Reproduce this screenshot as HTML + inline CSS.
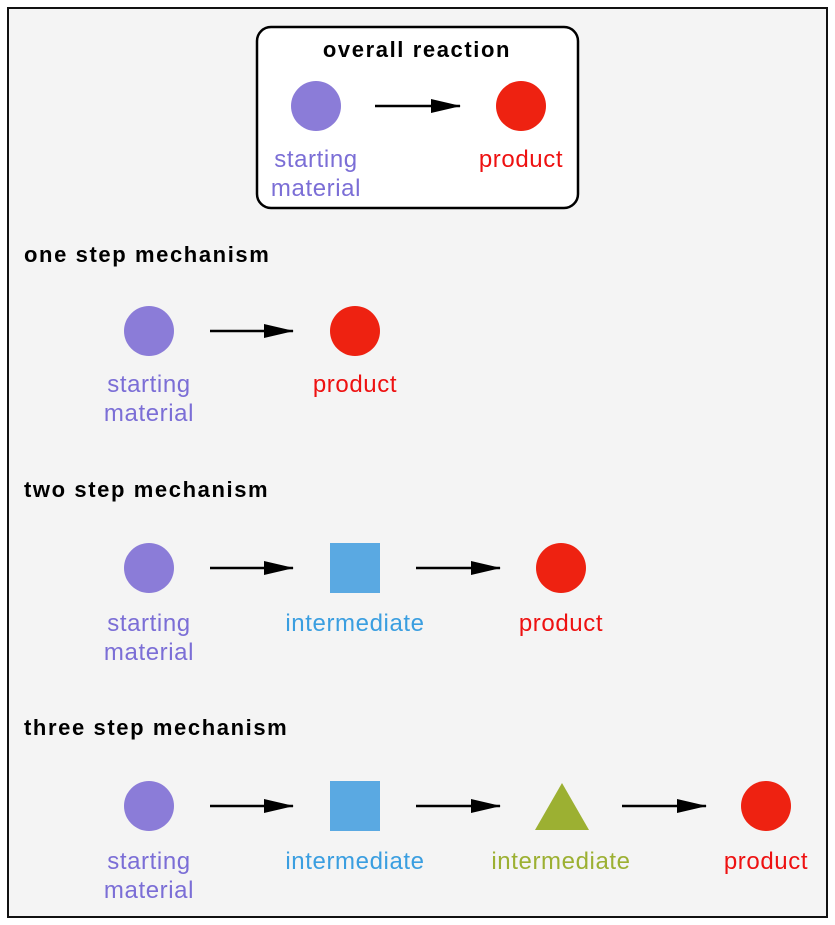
<!DOCTYPE html>
<html><head><meta charset="utf-8"><style>html,body{margin:0;padding:0;background:#fff}svg{display:block}</style></head>
<body>
<svg width="835" height="925" viewBox="0 0 835 925" xmlns="http://www.w3.org/2000/svg" font-family="Liberation Sans, sans-serif">
<defs><marker id="a" markerWidth="30" markerHeight="14" refX="29" refY="7" orient="auto" markerUnits="userSpaceOnUse"><path d="M0,0 L30,7 L0,14 Z" fill="#000"/></marker></defs>
<rect x="8" y="8" width="819" height="909" fill="#f4f4f4" stroke="#111" stroke-width="2"/>
<rect x="257" y="27" width="321" height="181" rx="14" fill="#fff" stroke="#000" stroke-width="2.5"/>
<g font-weight="bold" font-size="22" fill="#000" letter-spacing="1.6">
<text x="417" y="57" text-anchor="middle">overall reaction</text>
<text x="24" y="262">one step mechanism</text>
<text x="24" y="497">two step mechanism</text>
<text x="24" y="735">three step mechanism</text>
</g>
<g stroke="#000" stroke-width="2.5" marker-end="url(#a)">
<line x1="375" y1="106" x2="460" y2="106"/>
<line x1="210" y1="331" x2="293" y2="331"/>
<line x1="210" y1="568" x2="293" y2="568"/>
<line x1="416" y1="568" x2="500" y2="568"/>
<line x1="210" y1="806" x2="293" y2="806"/>
<line x1="416" y1="806" x2="500" y2="806"/>
<line x1="622" y1="806" x2="706" y2="806"/>
</g>
<g fill="#8b7cd8">
<circle cx="316" cy="106" r="25"/><circle cx="149" cy="331" r="25"/><circle cx="149" cy="568" r="25"/><circle cx="149" cy="806" r="25"/>
</g>
<g fill="#ee2211">
<circle cx="521" cy="106" r="25"/><circle cx="355" cy="331" r="25"/><circle cx="561" cy="568" r="25"/><circle cx="766" cy="806" r="25"/>
</g>
<rect x="330" y="543" width="50" height="50" fill="#5aa9e2"/>
<rect x="330" y="781" width="50" height="50" fill="#5aa9e2"/>
<polygon points="562,783 589,830 535,830" fill="#9cb032"/>
<g font-size="24" text-anchor="middle" letter-spacing="0.6">
<g fill="#7b6ed6">
<text x="316" y="167">starting</text><text x="316" y="196">material</text>
<text x="149" y="392">starting</text><text x="149" y="421">material</text>
<text x="149" y="631">starting</text><text x="149" y="660">material</text>
<text x="149" y="869">starting</text><text x="149" y="898">material</text>
</g>
<g fill="#ee1111">
<text x="521" y="167">product</text><text x="355" y="392">product</text><text x="561" y="631">product</text><text x="766" y="869">product</text>
</g>
<g fill="#3a9ee0"><text x="355" y="631">intermediate</text><text x="355" y="869">intermediate</text></g>
<text x="561" y="869" fill="#9cb032">intermediate</text>
</g>
</svg>
</body></html>
